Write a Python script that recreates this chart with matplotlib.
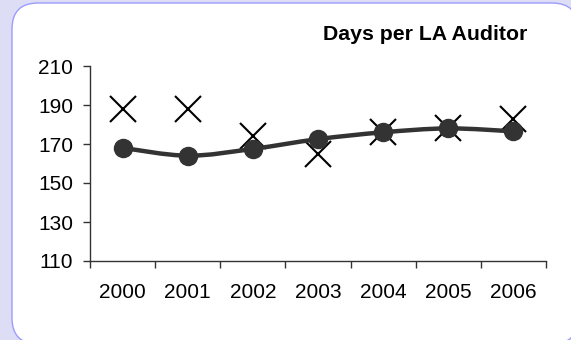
import matplotlib as mpl
mpl.use('Agg')
import matplotlib.pyplot as plt
from matplotlib.patches import FancyBboxPatch, PathPatch
from matplotlib.path import Path
from matplotlib.transforms import IdentityTransform
import numpy as np

years = ['2000', '2001', '2002', '2003', '2004', '2005', '2006']
days_per_auditor = [168, 164, 167.5, 172.5, 176, 178, 176.5]
target_days = [188, 188, 174, 165, 176, 178, 183]
yticks = [110, 130, 150, 170, 190, 210]

plt.rcParams['font.family'] = ['Liberation Sans', 'DejaVu Sans']
W, H = 571, 340
fig = plt.figure(figsize=(W / 100, H / 100), dpi=100)
fig.patch.set_facecolor('#DDDDF6')

# white rounded panel behind the chart
panel = FancyBboxPatch((12, -4), 566, 341,
                       boxstyle='round,pad=0,rounding_size=26',
                       facecolor='white', edgecolor='#9C9CFF', linewidth=1.0,
                       transform=IdentityTransform(), zorder=-5)
fig.patches.append(panel)

ax = fig.add_axes([90 / W, 1 - 261 / H, (546 - 90) / W, (261 - 66) / H])
ax.set_facecolor('none')
ax.set_zorder(2)

x = np.arange(len(years))
ax.set_xlim(-0.5, len(years) - 0.5)
ax.set_ylim(110, 210)

# smoothed line through the yearly values (cubic bezier segments)
pts = np.column_stack([x, days_per_auditor]).astype(float)
n = len(pts)
verts = [pts[0]]
codes = [Path.MOVETO]
for i in range(n - 1):
    p0 = pts[i - 1] if i > 0 else pts[i]
    p1 = pts[i]
    p2 = pts[i + 1]
    p3 = pts[i + 2] if i + 2 < n else pts[i + 1]
    verts += [p1 + (p2 - p0) / 6, p2 - (p3 - p1) / 6, p2]
    codes += [Path.CURVE4] * 3
ax.plot(x, target_days, linestyle='none', marker='x', markersize=19,
        markeredgewidth=1.5, color='black', zorder=2, clip_on=False)
ax.add_patch(PathPatch(Path(verts, codes), fill=False, edgecolor='#333333',
                       linewidth=3.2, capstyle='round', zorder=3))
ax.plot(x, days_per_auditor, linestyle='none', marker='o', markersize=13,
        color='#333333', zorder=4, clip_on=False)

for s in ['top', 'right']:
    ax.spines[s].set_visible(False)
for s in ['left', 'bottom']:
    ax.spines[s].set_color('#333333')
    ax.spines[s].set_linewidth(1.0)

ax.set_yticks(yticks)
ax.tick_params(axis='y', direction='out', length=5, width=1, color='#333333',
               labelsize=15, pad=7)
ax.set_xticks(np.arange(-0.5, len(years)))
ax.set_xticklabels([])
ax.set_xticks(x, minor=True)
ax.set_xticklabels(years, minor=True)
ax.tick_params(axis='x', which='major', direction='out', length=5, width=1,
               color='#333333')
ax.tick_params(axis='x', which='minor', length=0, labelsize=15, pad=16)

fig.text(425.5 / W, 1 - 35 / H, 'Days per LA Auditor', ha='center',
         va='center', fontsize=15.3, fontweight='bold')

fig.savefig('out.png', dpi=100)
